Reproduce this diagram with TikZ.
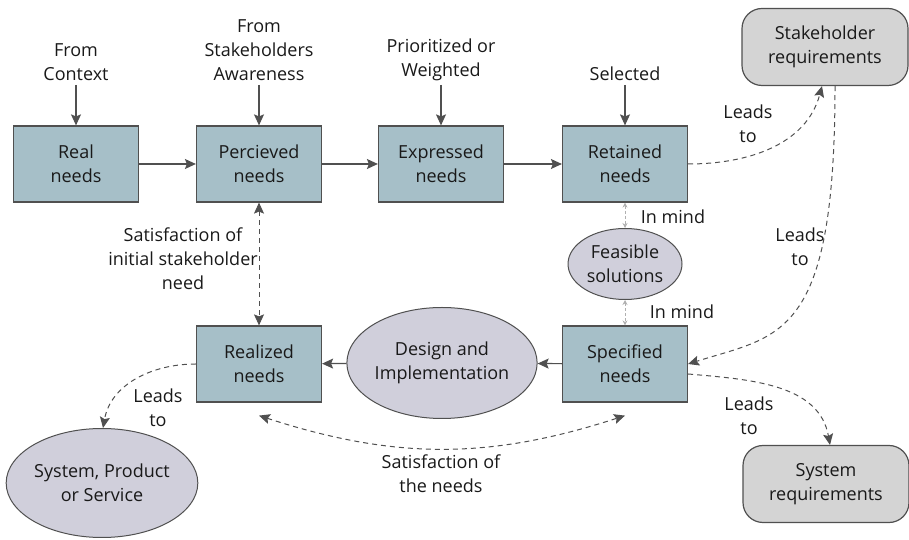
\documentclass[tikz,border=0pt]{standalone}
\usepackage{fontspec}
\setmainfont{Open Sans}
\usetikzlibrary{arrows.meta,shapes.geometric}
\definecolor{needfill}{HTML}{A6BFC8}
\definecolor{wishfill}{HTML}{D0CFDB}
\definecolor{reqfill}{HTML}{D4D4D4}
\definecolor{linegray}{HTML}{505050}
\definecolor{hintgray}{HTML}{B0B0B0}
\begin{document}
\begin{tikzpicture}[x=1pt,y=1pt]
    \tikzset{
        every node/.style={font=\fontsize{18}{24}\selectfont, text=black!90, align=center},
        need/.style={draw=linegray, fill=needfill, line width=1.2pt, minimum width=125, minimum height=76, inner sep=0},
        wish/.style={draw=linegray, fill=wishfill, line width=1pt, ellipse, inner sep=0},
        req/.style={draw=linegray, fill=reqfill, line width=1.2pt, rounded corners=20pt, minimum width=166, minimum height=77},
        note/.style={inner sep=4pt},
        arc/.style={->, draw=linegray, line width=1.2pt},
        lead/.style={->, draw=linegray, line width=1pt, dash pattern=on 5pt off 4pt},
        hint/.style={<->, draw=hintgray, line width=1pt, densely dashed, >={Stealth[length=5pt,width=5pt]}},
        >={Stealth[length=11pt,width=10pt,inset=2pt]}
    }
    \useasboundingbox (0,0) rectangle (909,540);

    \draw node[need] (real) at (76,376) {Real\\needs};
    \draw node[need] (perc) at (259,376) {Percieved\\needs};
    \draw node[need] (expr) at (441,376) {Expressed\\needs};
    \draw node[need] (ret) at (625,376) {Retained\\needs};
    \draw node[need] (spec) at (625,176) {Specified\\needs};
    \draw node[need] (done) at (259,176) {Realized\\needs};
    \draw node[wish, minimum width=114, minimum height=71] (feas) at (625,276) {Feasible\\solutions};
    \draw node[wish, minimum width=179, minimum height=111] (impl) at (442,177) {Design and\\Implementation};
    \draw node[wish, minimum width=179, minimum height=109] (sys) at (102,57) {System, Product\\or Service};
    \draw node[req] (sreq) at (825,493) {Stakeholder\\requirements};
    \draw node[req] (sysreq) at (826,56) {System\\requirements};

    % where the needs come from
    \draw node[note, anchor=south] (ctx) at (76,455) {From\\Context};
    \draw node[note, anchor=south] (aware) at (259,455) {From\\Stakeholders\\Awareness};
    \draw node[note, anchor=south] (prio) at (441,455) {Prioritized or\\Weighted};
    \draw node[note, anchor=south] (sel) at (625,455) {Selected};

    \foreach \x/\y in {%
        ctx/real, aware/perc, prio/expr, sel/ret,%
        real/perc, perc/expr, expr/ret, spec/impl, impl/done%
    }{
    \draw[arc] (\x) -- (\y);
    }

    \draw[hint] (ret) -- (feas);
    \draw[hint] (feas) -- (spec);
    \draw node[note] (mind1) at (673,323) {In mind};
    \draw node[note] (mind2) at (682,228) {In mind};

    \draw[lead] (ret.east) to[out=0,in=-105] ([xshift=-3pt]sreq.south);
    \draw[lead] ([xshift=10pt]sreq.south) .. controls (835,200) and (780,205) .. (spec.east);
    \draw[lead] ([yshift=-10pt]spec.east) to[out=-5,in=100] ([xshift=4pt]sysreq.north);
    \draw[lead] (done.west) to[out=180,in=80] ([xshift=1pt]sys.north);
    \draw[lead, <->] (perc) -- (done);
    \draw[lead, <->] ([yshift=-13pt]done.south) to[bend right=18] ([yshift=-13pt]spec.south);

    \draw node[note] (lead1) at (748,416) {Leads\\to};
    \draw node[note] (lead2) at (800,293) {Leads\\to};
    \draw node[note] (lead3) at (749,124) {Leads\\to};
    \draw node[note] (lead4) at (158,132) {Leads\\to};
    \draw node[note] (sat1) at (183,281) {Satisfaction of\\initial stakeholder\\need};
    \draw node[note] (sat2) at (441,66) {Satisfaction of\\the needs};
\end{tikzpicture}
\end{document}
